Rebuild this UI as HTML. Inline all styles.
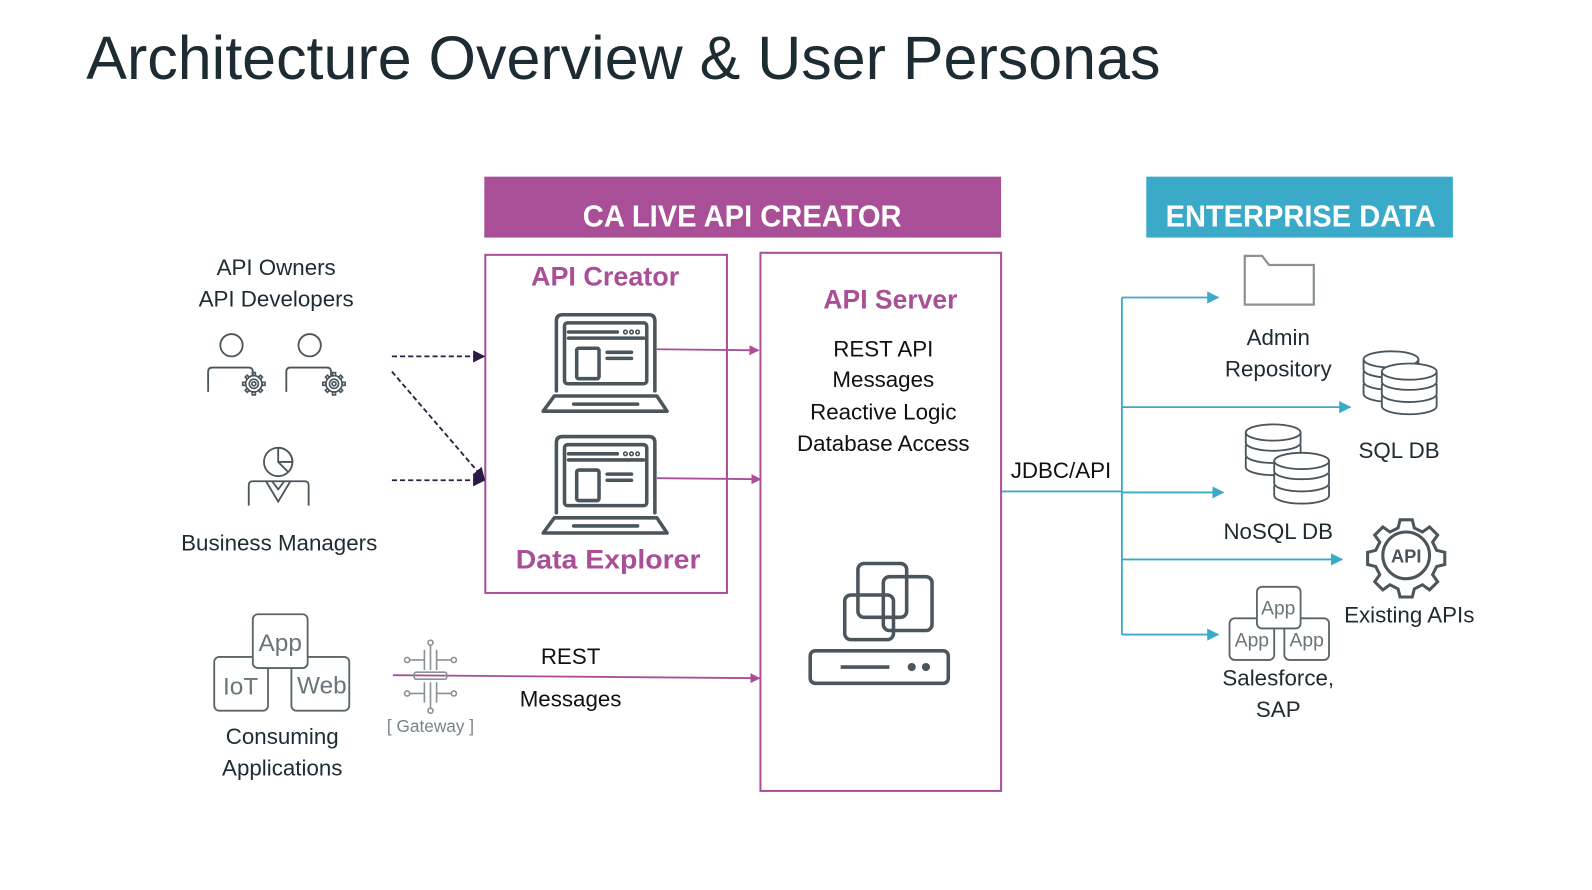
<!DOCTYPE html>
<html><head><meta charset="utf-8"><style>
html,body{margin:0;padding:0;background:#fff;}
svg{display:block;}
text{font-family:"Liberation Sans",sans-serif;}
</style></head><body>
<svg width="1592" height="890" viewBox="0 0 1592 890" xmlns="http://www.w3.org/2000/svg">
<defs>
<marker id="mm" markerWidth="10" markerHeight="10" refX="9" refY="5" orient="auto" markerUnits="userSpaceOnUse"><path d="M0,0 L10,5 L0,10z" fill="#A94F98"/></marker>
<marker id="mt" markerWidth="12" markerHeight="12" refX="11" refY="6" orient="auto" markerUnits="userSpaceOnUse"><path d="M0,0 L12,6 L0,12z" fill="#3BA9C8"/></marker>
<marker id="md" markerWidth="12" markerHeight="12" refX="11" refY="6" orient="auto" markerUnits="userSpaceOnUse"><path d="M0,0 L12,6 L0,12z" fill="#2b1a45"/></marker>
<g id="laptop" fill="none" stroke="#4a555c" stroke-width="3.5" stroke-linecap="round" stroke-linejoin="round">
<path d="M548,385 V316 Q548,310 554,310 H639 Q645,310 645,316 V385"/>
<rect x="556" y="318" width="81" height="60" rx="3"/>
<line x1="560" y1="327" x2="608" y2="327"/><circle cx="616" cy="327" r="0.8"/><circle cx="622" cy="327" r="0.8"/><circle cx="628" cy="327" r="0.8"/>
<line x1="560" y1="333" x2="634" y2="333"/>
<rect x="568" y="343" width="22" height="30" rx="2"/>
<line x1="598" y1="347" x2="622" y2="347"/><line x1="598" y1="353" x2="622" y2="353"/>
<path d="M546,390 H647 L657,405 H535 Z"/>
<line x1="565" y1="398" x2="628" y2="398"/>
</g>
<g id="gear" fill="none" stroke="#4a555c" stroke-width="1.6">
<circle r="8"/><circle r="4.5"/><circle r="2"/>
<path d="M-1.5,-11 h3 v3 h-3z M-1.5,8 h3 v3 h-3z M-11,-1.5 v3 h3 v-3z M8,-1.5 v3 h3 v-3z"/>
<path d="M-8.5,-6.5 l2,-2 l2,2 -2,2z M6.5,-8.5 l2,2 -2,2 -2,-2z M-8.5,6.5 l2,2 2,-2 -2,-2z M6.5,8.5 l2,-2 -2,-2 -2,2z"/>
</g>
<g id="person" fill="none" stroke="#4a555c" stroke-width="1.8">
<circle cx="0" cy="0" r="11"/>
<path d="M-23,46 V26 Q-23,22 -19,22 H17 Q21,22 21,26 V30"/>
</g>
</defs>
<g transform="scale(1.0153)">

<text x="85" y="78" font-size="60" fill="#1d2b33" textLength="1058" lengthAdjust="spacingAndGlyphs">Architecture Overview &amp; User Personas</text>

<rect x="477" y="174" width="509" height="60" fill="#A94F98"/>
<text x="731" y="223" font-size="30" font-weight="bold" fill="#fff" text-anchor="middle" textLength="314" lengthAdjust="spacingAndGlyphs">CA LIVE API CREATOR</text>
<rect x="1129" y="174" width="302" height="60" fill="#3BA9C8"/>
<text x="1281" y="223" font-size="30" font-weight="bold" fill="#fff" text-anchor="middle" textLength="266" lengthAdjust="spacingAndGlyphs">ENTERPRISE DATA</text>

<rect x="478" y="251" width="238" height="333" fill="none" stroke="#A94F98" stroke-width="2"/>
<rect x="749" y="249" width="237" height="530" fill="none" stroke="#A94F98" stroke-width="2"/>

<text x="596" y="281" font-size="26" font-weight="bold" fill="#A94F98" text-anchor="middle" textLength="146" lengthAdjust="spacingAndGlyphs">API Creator</text>
<text x="599" y="560" font-size="26" font-weight="bold" fill="#A94F98" text-anchor="middle" textLength="182" lengthAdjust="spacingAndGlyphs">Data  Explorer</text>
<use href="#laptop"/>
<use href="#laptop" y="120"/>

<text x="877" y="304" font-size="26" font-weight="bold" fill="#A94F98" text-anchor="middle" textLength="132" lengthAdjust="spacingAndGlyphs">API Server</text>
<g font-size="22" fill="#111" text-anchor="middle">
<text x="870" y="351">REST API</text>
<text x="870" y="381">Messages</text>
<text x="870" y="413">Reactive Logic</text>
<text x="870" y="444">Database Access</text>
</g>
<g fill="none" stroke="#4a555c" stroke-width="3.5">
<rect x="845" y="555" width="48" height="53" rx="6"/>
<rect x="870" y="568" width="48" height="53" rx="6"/>
<rect x="832" y="586" width="48" height="44" rx="6"/>
<rect x="798" y="641" width="136" height="32" rx="5"/>
<line x1="828" y1="657" x2="876" y2="657"/>
</g>
<circle cx="898" cy="657" r="4" fill="#4a555c"/><circle cx="912" cy="657" r="4" fill="#4a555c"/>

<g stroke="#A94F98" stroke-width="1.8" fill="none">
<line x1="647" y1="344" x2="747" y2="345" marker-end="url(#mm)"/>
<line x1="647" y1="471" x2="749" y2="472" marker-end="url(#mm)"/>
<line x1="387" y1="665" x2="748" y2="668" marker-end="url(#mm)"/>
</g>

<g stroke="#2b1a45" stroke-width="1.8" fill="none" stroke-dasharray="5,3">
<line x1="386" y1="351" x2="477" y2="351" marker-end="url(#md)"/>
<line x1="386" y1="366" x2="477" y2="472" marker-end="url(#md)"/>
<line x1="386" y1="473" x2="477" y2="473" marker-end="url(#md)"/>
</g>

<g font-size="22" fill="#1d2b33" text-anchor="middle">
<text x="272" y="271">API Owners</text>
<text x="272" y="302">API Developers</text>
<text x="275" y="542">Business Managers</text>
<text x="278" y="733">Consuming</text>
<text x="278" y="764">Applications</text>
</g>
<use href="#person" x="228" y="340"/>
<use href="#person" x="305" y="340"/>
<use href="#gear" x="250" y="378"/>
<use href="#gear" x="329" y="378"/>
<g fill="none" stroke="#4a555c" stroke-width="1.8">
<circle cx="274" cy="455" r="14"/>
<path d="M274,441 V455 L284,465 M274,441 A14,14 0 0 1 288,455 H274"/>
<path d="M245,498 V478 Q245,474 249,474 H300 Q304,474 304,478 V498"/>
<path d="M262,474 L274,494 L286,474 M268,474 L274,482 L280,474"/>
</g>

<g fill="#fff" stroke="#5a6569" stroke-width="1.8">
<rect x="211" y="647" width="53" height="53" rx="5"/>
<rect x="287" y="647" width="57" height="53" rx="5"/>
<rect x="249" y="605" width="54" height="53" rx="5"/>
</g>
<g font-size="24" fill="#6a757a" text-anchor="middle">
<text x="237" y="684">IoT</text>
<text x="317" y="683">Web</text>
<text x="276" y="641">App</text>
</g>

<g fill="none" stroke="#8a9296" stroke-width="1.6">
<line x1="418" y1="640" x2="418" y2="660"/><line x1="424" y1="635" x2="424" y2="660"/><line x1="430" y1="640" x2="430" y2="660"/>
<line x1="418" y1="672" x2="418" y2="692"/><line x1="424" y1="672" x2="424" y2="698"/><line x1="430" y1="672" x2="430" y2="692"/>
<circle cx="424" cy="633" r="2.5"/><circle cx="424" cy="700" r="2.5"/>
<line x1="403" y1="650" x2="418" y2="650"/><circle cx="401" cy="650" r="2.5"/>
<line x1="430" y1="650" x2="445" y2="650"/><circle cx="447" cy="650" r="2.5"/>
<line x1="403" y1="683" x2="418" y2="683"/><circle cx="401" cy="683" r="2.5"/>
<line x1="430" y1="683" x2="445" y2="683"/><circle cx="447" cy="683" r="2.5"/>
<rect x="408" y="662" width="32" height="7" rx="2"/>
</g>
<text x="424" y="721" font-size="17" fill="#7a8488" text-anchor="middle">[ Gateway ]</text>
<g font-size="22" fill="#111" text-anchor="middle">
<text x="562" y="654">REST</text>
<text x="562" y="696">Messages</text>
<text x="1045" y="471">JDBC/API</text>
</g>

<g stroke="#3BA9C8" stroke-width="1.8" fill="none">
<line x1="987" y1="484" x2="1105" y2="484"/>
<line x1="1105" y1="293" x2="1105" y2="625"/>
<line x1="1105" y1="293" x2="1200" y2="293" marker-end="url(#mt)"/>
<line x1="1105" y1="401" x2="1330" y2="401" marker-end="url(#mt)"/>
<line x1="1105" y1="485" x2="1205" y2="485" marker-end="url(#mt)"/>
<line x1="1105" y1="551" x2="1322" y2="551" marker-end="url(#mt)"/>
<line x1="1105" y1="625" x2="1200" y2="625" marker-end="url(#mt)"/>
</g>

<path d="M1226,252 H1243 L1250,261 H1294 V300 H1226 Z" fill="none" stroke="#8a9296" stroke-width="2.2"/>
<g font-size="22" fill="#1d2b33" text-anchor="middle">
<text x="1259" y="340">Admin</text>
<text x="1259" y="371">Repository</text>
<text x="1378" y="451">SQL DB</text>
<text x="1259" y="531">NoSQL DB</text>
<text x="1388" y="613">Existing APIs</text>
<text x="1259" y="675">Salesforce,</text>
<text x="1259" y="706">SAP</text>
</g>

<g fill="#fff" stroke="#4a555c" stroke-width="1.8">
<g id="cyl">
<path d="M1343,378 v10 a27,8 0 0 0 54,0 v-10"/>
<path d="M1343,366 v10 a27,8 0 0 0 54,0 v-10"/>
<path d="M1343,354 v10 a27,8 0 0 0 54,0 v-10"/>
<ellipse cx="1370" cy="354" rx="27" ry="8"/>
</g>
<use href="#cyl" x="18" y="12"/>
<use href="#cyl" x="-116" y="72"/>
<use href="#cyl" x="-88" y="100"/>
</g>

<g fill="none" stroke="#4a555c" stroke-width="3">
<path d="M1379,512 h12 l2,8 l8,4 l7,-5 l8,8 l-5,7 l4,8 l8,2 v12 l-8,2 l-4,8 l5,7 l-8,8 l-7,-5 l-8,4 l-2,8 h-12 l-2,-8 l-8,-4 l-7,5 l-8,-8 l5,-7 l-4,-8 l-8,-2 v-12 l8,-2 l4,-8 l-5,-7 l8,-8 l7,5 l8,-4 z"/>
<circle cx="1385" cy="547" r="23"/>
</g>
<text x="1385" y="554" font-size="18" font-weight="bold" fill="#4a555c" text-anchor="middle">API</text>

<g fill="#fff" stroke="#5a6569" stroke-width="1.8">
<rect x="1211" y="609" width="44" height="41" rx="5"/>
<rect x="1265" y="609" width="44" height="41" rx="5"/>
<rect x="1238" y="578" width="43" height="41" rx="5"/>
</g>
<g font-size="19" fill="#6a757a" text-anchor="middle">
<text x="1233" y="637">App</text>
<text x="1287" y="637">App</text>
<text x="1259" y="605">App</text>
</g>
</g>
</svg>
</body></html>
